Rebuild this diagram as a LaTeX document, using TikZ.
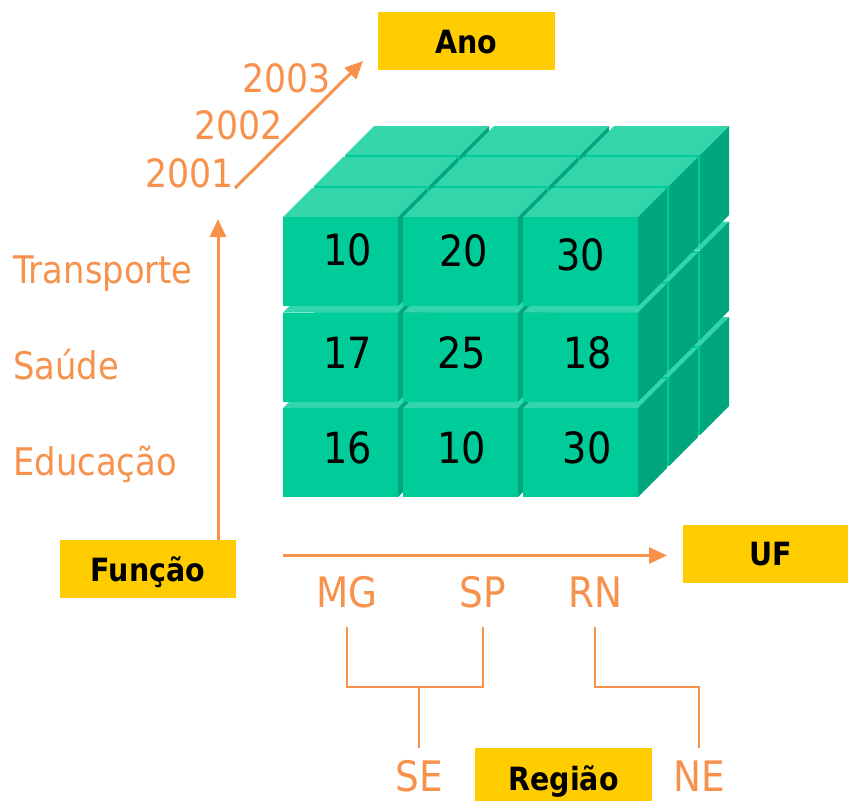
\documentclass[tikz,border=0pt]{standalone}
\usepackage{fontspec}
\setmainfont{DejaVu Sans}[FakeStretch=0.89]
\usetikzlibrary{arrows.meta}
\definecolor{orng}{RGB}{247,145,76}
\definecolor{gold}{RGB}{255,204,0}
\definecolor{gfront}{RGB}{0,204,153}
\definecolor{gtop}{RGB}{51,214,170}
\definecolor{gside}{RGB}{0,166,124}
\newcommand\cubeat[2]{%
  \fill[gtop] (#1,#2) -- ++(29,-29) -- ++(115,0) -- ++(-29,29) -- cycle;
  \fill[gside] (#1+115,#2) -- ++(29,-29) -- ++(0,89) -- ++(-29,29) -- cycle;
  \fill[gfront] (#1,#2) rectangle ++(115,89);
}
\begin{document}
\begin{tikzpicture}[x=1pt,y=-1pt,
  lab/.style={text=orng, font=\fontsize{38}{40}\selectfont, inner sep=0pt},
  yr/.style={text=orng, font=\fontsize{39}{40}\selectfont, inner sep=0pt, anchor=base east},
  big/.style={text=orng, font=\fontsize{42}{46}\selectfont, inner sep=0pt, anchor=base},
  num/.style={text=black, font=\fontsize{43}{46}\selectfont, inner sep=0pt, anchor=base},
  tag/.style={fill=gold, inner sep=0pt, text=black, text height=24pt, text depth=0pt,
    font=\bfseries\fontsize{32}{34}\selectfont},
  axis/.style={draw=orng, line width=3pt, -{Triangle[length=18pt,width=16pt]}},
  link/.style={draw=orng, line width=2pt},
]
\useasboundingbox (0,0) rectangle (848,801);

% cube
\foreach \k in {2,1,0} {
  \foreach \j in {2,1,0} {
    \foreach \i in {0,1,2} {
      \pgfmathsetmacro\cx{283+120*\i+31*\k}
      \pgfmathsetmacro\cy{217+95.5*\j-31*\k}
      \cubeat{\cx}{\cy}
    }}}

\node[num] (n11) at (348,265) {10};
\node[num] (n12) at (464,266) {20};
\node[num] (n13) at (581,270) {30};
\node[num] (n21) at (348,368) {17};
\node[num] (n22) at (462,368) {25};
\node[num] (n23) at (588,368) {18};
\node[num] (n31) at (348,463) {16};
\node[num] (n32) at (462,463) {10};
\node[num] (n33) at (587,463) {30};

% tags
\node[tag, minimum width=177pt, minimum height=58pt] (ano) at (466.5,41) {Ano};
\node[tag, minimum width=176pt, minimum height=58pt] (funcao) at (148,569) {Função};
\node[tag, minimum width=165pt, minimum height=58pt] (uf) at (765.5,553.5) {\hspace*{11pt}UF};
\node[tag, minimum width=177pt, minimum height=53pt] (regiao) at (563.5,774.5) {\raisebox{-3.5pt}{Região}};

% years
\node[yr] (y3) at (331,92) {2003};
\node[yr] (y2) at (283,139) {2002};
\node[yr] (y1) at (234,187) {2001};

% functions
\node[lab, anchor=base west] (tr) at (13,283) {Transporte};
\node[lab, anchor=base west] (sa) at (13,379) {Saúde};
\node[lab, anchor=base west] (ed) at (13,475) {Educação};

% states / regions
\node[big] (mg) at (347,607) {MG};
\node[big] (sp) at (483,607) {SP};
\node[big] (rn) at (595,607) {RN};
\node[big] (se) at (419,791) {SE};
\node[big] (ne) at (699,791) {NE};

% axes
\coordinate (fa0) at (218,540);
\coordinate (fa1) at (218,219);
\coordinate (ya0) at (235,188);
\coordinate (ya1) at (363,61);
\coordinate (ua0) at (283,555.5);
\coordinate (ua1) at (667,555.5);
\draw[axis] (fa0) -- (fa1);
\draw[axis] (ya0) -- (ya1);
\draw[axis] (ua0) -- (ua1);

% hierarchy
\coordinate (mgb) at (347,627);
\coordinate (spb) at (483,627);
\coordinate (rnb) at (595,627);
\coordinate (sej) at (419,687);
\coordinate (set) at (419,748);
\coordinate (net) at (699,748);
\draw[link] (mgb) -- (347,687) -- (483,687) -- (spb);
\draw[link] (sej) -- (set);
\draw[link] (rnb) -- (595,687) -- (699,687) -- (net);
\end{tikzpicture}
\end{document}
